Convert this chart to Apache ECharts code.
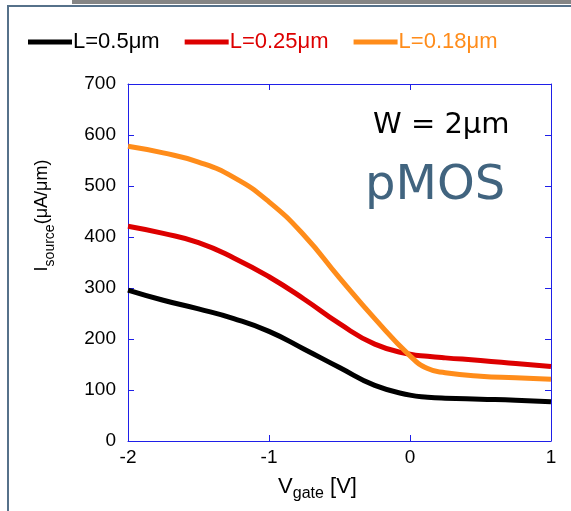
<!DOCTYPE html>
<html>
<head>
<meta charset="utf-8">
<script src="https://cdn.jsdelivr.net/npm/echarts@6/dist/echarts.min.js"></script>
<style>
html,body{margin:0;padding:0;background:#fff;}
#chart{width:571px;height:511px;}
</style>
</head>
<body>
<div id="chart"></div>
<script>
// Data
var vgate = [-2, -1.75, -1.5, -1.25, -1, -0.75, -0.5, -0.25, 0, 0.125, 0.25, 0.5, 0.75, 1];
var seriesNames = ['L=0.5\u03bcm', 'L=0.25\u03bcm', 'L=0.18\u03bcm'];
var iL050 = [296, 276, 259, 240, 215, 180, 144, 109, 90, 86, 84, 82, 80, 77];
var iL025 = [421, 407, 389, 359, 322, 278, 230, 190, 170, 166, 163, 158, 152, 146];
var iL018 = [578, 565, 547, 517, 469, 403, 320, 240, 167, 142, 134, 127, 124, 121];
var yTicks = [0, 100, 200, 300, 400, 500, 600, 700];
var xTicks = [-2, -1, 0, 1];

var colors = ['#000000', '#dd0000', '#ff8c1a'];
var values = [iL050, iL025, iL018];

function pairs(v) { return vgate.map(function (x, i) { return [x, v[i]]; }); }

var axisBlue = '#1f1fe8';
var tickFont = 'Liberation Sans, Arial, sans-serif';

var chart = echarts.init(document.getElementById('chart'), null, {renderer: 'canvas'});
var axisLineStyle = {show: true, onZero: false, lineStyle: {color: axisBlue, width: 1}};
var tickStyle = {show: true, inside: true, length: 6, lineStyle: {color: axisBlue}};
var option = {
  animation: false,
  backgroundColor: '#ffffff',
  grid: {left: 128, right: 20, top: 84, bottom: 70, containLabel: false},
  legend: {
    left: 28, top: 31, padding: 0,
    icon: 'rect', itemWidth: 44, itemHeight: 5, itemGap: 25,
    textStyle: {fontSize: 22, fontFamily: tickFont, padding: [0, 0, 0, -4]},
    data: seriesNames.map(function (n, i) { return {name: n, textStyle: {color: colors[i]}}; })
  },
  xAxis: [{
    type: 'value', min: xTicks[0], max: xTicks[xTicks.length - 1], interval: 1,
    axisLine: axisLineStyle, axisTick: tickStyle,
    splitLine: {show: false},
    axisLabel: {color: '#000', fontSize: 19, fontFamily: tickFont, margin: 7},
    name: '{m|V}{s|gate}{m| [V]}',
    nameLocation: 'middle', nameGap: 30,
    nameTextStyle: {
      padding: [0, 44, 0, 0],
      rich: {
        m: {fontSize: 22, fontFamily: tickFont, color: '#000', verticalAlign: 'top', lineHeight: 22},
        s: {fontSize: 16, fontFamily: tickFont, color: '#000', padding: [14, 0, 0, 0], lineHeight: 16}
      }
    }
  }, {
    type: 'value', position: 'top', min: xTicks[0], max: xTicks[xTicks.length - 1], interval: 1,
    axisLine: axisLineStyle, axisTick: tickStyle,
    splitLine: {show: false}, axisLabel: {show: false}
  }],
  yAxis: [{
    type: 'value', min: yTicks[0], max: yTicks[yTicks.length - 1], interval: 100,
    axisLine: axisLineStyle, axisTick: tickStyle,
    splitLine: {show: false},
    axisLabel: {color: '#000', fontSize: 19, fontFamily: tickFont, margin: 12},
    name: '{m|I}{s|source}{m|(\u03bcA/\u03bcm)}',
    nameLocation: 'middle', nameGap: 75, nameRotate: 90,
    nameTextStyle: {
      padding: [0, 0, 0, 94],
      rich: {
        m: {fontSize: 18, fontFamily: tickFont, color: '#000', verticalAlign: 'top', lineHeight: 20},
        s: {fontSize: 14, fontFamily: tickFont, color: '#000', padding: [14, 0, 0, 0], lineHeight: 14}
      }
    }
  }, {
    type: 'value', position: 'right', min: yTicks[0], max: yTicks[yTicks.length - 1], interval: 100,
    axisLine: axisLineStyle, axisTick: tickStyle,
    splitLine: {show: false}, axisLabel: {show: false}
  }],
  series: seriesNames.map(function (n, i) {
    return {
      name: n, type: 'line', xAxisIndex: 0, yAxisIndex: 0,
      data: pairs(values[i]), smooth: 0.5, showSymbol: false, symbol: 'none',
      lineStyle: {color: colors[i], width: 5}, itemStyle: {color: colors[i]}, z: 3 + i
    };
  }),
  graphic: [
    {type: 'rect', left: 72, top: 0, shape: {width: 499, height: 4}, style: {fill: '#858585'}, silent: true},
    {type: 'rect', left: 7, top: 5, shape: {width: 564, height: 2}, style: {fill: '#56718a'}, silent: true},
    {type: 'rect', left: 7, top: 5, shape: {width: 2, height: 506}, style: {fill: '#56718a'}, silent: true},
    {type: 'text', left: 373, top: 111, style: {text: 'W = 2\u03bcm', fontSize: 29, fontFamily: 'DejaVu Sans, Verdana, sans-serif', fill: '#000'}},
    {type: 'text', left: 365, top: 163, style: {text: 'pMOS', fontSize: 48, fontFamily: 'DejaVu Sans, Verdana, sans-serif', fill: '#41647f'}}
  ]
};
chart.setOption(option);
</script>
</body>
</html>
